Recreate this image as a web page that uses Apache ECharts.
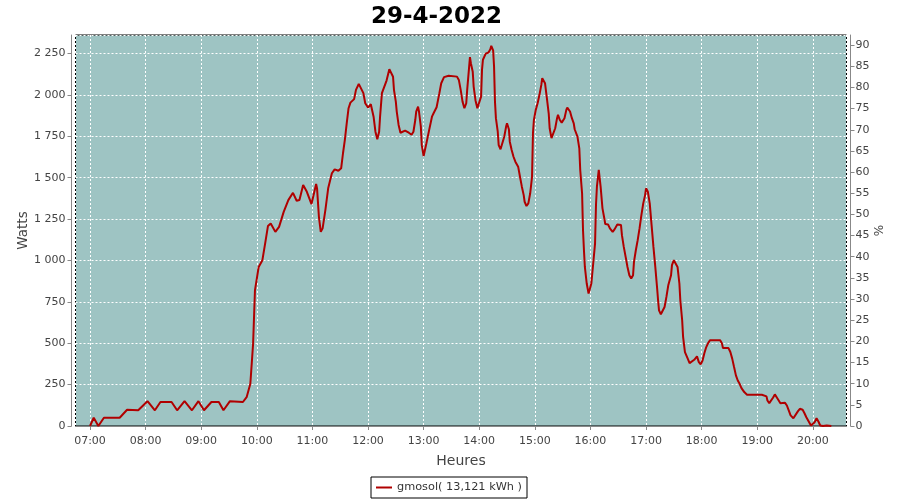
<!DOCTYPE html>
<html>
<head>
<meta charset="utf-8">
<script src="https://cdn.jsdelivr.net/npm/echarts@6/dist/echarts.min.js"></script>
<style>html,body{margin:0;padding:0;background:#fff}#c{width:900px;height:500px}</style>
</head>
<body>
<div id="c"></div>
<script>
const day = '2022-04-29';
const times = ['07:00','07:04','07:09','07:15','07:32','07:40','07:52','08:02','08:10','08:16','08:28','08:34','08:42','08:50','08:57','09:03','09:11','09:19','09:24','09:31','09:45','09:49','09:53','09:56','09:58','10:02','10:06','10:09','10:12','10:15','10:20','10:24','10:29','10:34','10:39','10:43','10:46','10:50','10:54','10:59','11:04','11:05','11:07','11:09','11:11','11:14','11:17','11:21','11:24','11:28','11:31','11:33','11:35','11:37','11:39','11:41','11:45','11:47','11:50','11:52','11:55','11:57','12:00','12:03','12:06','12:08','12:10','12:12','12:13','12:15','12:17','12:20','12:23','12:25','12:27','12:28','12:30','12:31','12:33','12:35','12:37','12:40','12:42','12:44','12:47','12:49','12:51','12:52','12:54','12:55','12:57','12:58','13:00','13:01','13:03','13:06','13:09','13:11','13:14','13:17','13:19','13:22','13:27','13:36','13:38','13:40','13:42','13:44','13:46','13:47','13:49','13:50','13:51','13:53','13:54','13:56','13:58','14:00','14:02','14:03','14:04','14:07','14:10','14:12','14:13','14:15','14:16','14:17','14:18','14:20','14:21','14:23','14:25','14:27','14:29','14:30','14:32','14:33','14:35','14:37','14:39','14:42','14:44','14:46','14:48','14:49','14:51','14:53','14:55','14:57','14:58','14:59','15:01','15:03','15:05','15:07','15:08','15:10','15:11','15:13','15:15','15:16','15:18','15:20','15:22','15:24','15:25','15:27','15:29','15:32','15:34','15:35','15:38','15:40','15:42','15:43','15:46','15:48','15:49','15:51','15:52','15:53','15:54','15:56','15:58','16:00','16:01','16:03','16:05','16:06','16:07','16:09','16:10','16:11','16:13','16:15','16:16','16:19','16:21','16:24','16:26','16:29','16:31','16:33','16:34','16:36','16:38','16:40','16:42','16:44','16:46','16:47','16:49','16:51','16:53','16:55','16:57','16:59','17:00','17:02','17:04','17:06','17:08','17:10','17:12','17:13','17:14','17:16','17:18','17:20','17:22','17:24','17:27','17:28','17:30','17:32','17:34','17:36','17:37','17:39','17:40','17:42','17:45','17:47','17:49','17:52','17:55','17:57','17:59','18:01','18:03','18:05','18:07','18:09','18:20','18:22','18:23','18:29','18:31','18:33','18:35','18:37','18:39','18:41','18:43','18:46','18:49','19:05','19:07','19:10','19:11','19:13','19:15','19:17','19:19','19:22','19:25','19:30','19:32','19:34','19:36','19:39','19:41','19:44','19:46','19:49','19:51','19:53','19:56','19:58','20:00','20:02','20:04','20:06','20:08','20:11','20:15','20:17','20:20'];
const watts = [0,50,0,50,50,98,95,150,95,145,145,95,150,95,150,95,145,145,95,150,145,174,255,498,820,961,1002,1103,1208,1224,1173,1203,1294,1365,1409,1361,1365,1456,1415,1341,1462,1436,1264,1173,1194,1306,1436,1527,1551,1542,1557,1648,1729,1829,1920,1954,1975,2031,2067,2061,2011,1950,1924,1944,1869,1778,1732,1778,1869,2011,2041,2087,2156,2156,2110,2031,1960,1900,1819,1772,1765,1785,1795,1772,1760,1778,1849,1900,1930,1900,1809,1697,1631,1637,1708,1789,1869,1893,1926,2011,2071,2108,2116,2111,2091,2031,1960,1920,1950,2031,2162,2229,2192,2140,2051,1967,1920,1930,1990,2152,2213,2250,2257,2277,2297,2270,2172,1960,1860,1778,1697,1672,1678,1748,1809,1829,1793,1718,1668,1627,1597,1567,1506,1446,1395,1355,1329,1345,1406,1506,1769,1849,1910,1950,2001,2061,2102,2111,2071,1981,1888,1799,1739,1745,1799,1860,1880,1849,1833,1860,1910,1924,1900,1860,1829,1793,1748,1678,1547,1406,1183,1063,961,861,800,796,861,982,1103,1335,1446,1547,1537,1446,1315,1254,1220,1218,1194,1173,1188,1218,1228,1214,1153,1082,1022,961,911,891,911,992,1062,1123,1194,1274,1345,1395,1436,1415,1345,1214,1082,961,831,760,699,675,681,719,780,850,911,972,1002,1006,961,861,760,639,538,447,407,380,377,400,421,386,372,396,441,477,501,518,518,498,471,471,447,407,356,306,275,255,229,205,189,189,191,179,154,138,144,171,191,165,138,140,124,94,64,47,58,90,104,98,77,53,23,3,3,23,47,27,3,0,3,7,0];
const seriesName = 'gmosol( 13,121 kWh )';
const chartTitle = '29-4-2022';
const xMin = day + ' 06:44:20';
const xMax = day + ' 20:36:20';
const wattsMax = 2362.5, wattsStep = 250;
const pctMax = 92.4, pctStep = 5;

const data = times.map((t, i) => [day + ' ' + t, watts[i]]);
const font = 'DejaVu Sans';
const gray = '#444444';
const axisGray = '#888888';

const chart = echarts.init(document.getElementById('c'), null, {renderer: 'canvas'});
chart.setOption({
  animation: false,
  backgroundColor: '#ffffff',
  title: {
    text: chartTitle, left: 366, top: 1,
    textStyle: {fontFamily: font, fontSize: 23, fontWeight: 'bold', color: '#000'}
  },
  legend: {
    data: [seriesName], bottom: 2, left: 371,
    borderColor: '#000', borderWidth: 1, padding: [5, 5, 5, 5],
    icon: 'rect', itemWidth: 16, itemHeight: 2, itemGap: 4,
    textStyle: {fontFamily: font, fontSize: 11.3, color: '#333'}
  },
  grid: {
    left: 75.5, right: 53.5, top: 35, bottom: 74,
    show: true, backgroundColor: '#9ec4c3', borderColor: '#000', borderWidth: 1
  },
  xAxis: {
    type: 'time', min: xMin, max: xMax, offset: 4,
    minInterval: 3600000, maxInterval: 3600000,
    name: 'Heures', nameLocation: 'middle', nameGap: 24,
    nameTextStyle: {fontFamily: font, fontSize: 14, color: gray},
    axisLine: {show: true, lineStyle: {color: axisGray}},
    axisTick: {show: true, length: 4, lineStyle: {color: axisGray}},
    axisLabel: {formatter: '{HH}:{mm}', fontFamily: font, fontSize: 11, color: gray, margin: 6, showMinLabel: false, showMaxLabel: false},
    splitLine: {show: true, lineStyle: {color: '#ffffff', type: [2, 2], width: 1}}
  },
  yAxis: [{
    type: 'value', min: 0, max: wattsMax, interval: wattsStep, offset: 4,
    name: 'Watts', nameLocation: 'middle', nameGap: 41, nameMoveOverlap: false,
    nameTextStyle: {fontFamily: font, fontSize: 13.5, color: gray},
    axisLine: {show: true, lineStyle: {color: axisGray}},
    axisTick: {show: true, length: 4, lineStyle: {color: axisGray}},
    axisLabel: {
      fontFamily: font, fontSize: 11, color: gray, margin: 6, showMaxLabel: false,
      formatter: v => String(v).replace(/\B(?=(\d{3})+(?!\d))/g, ' ')
    },
    splitLine: {show: true, lineStyle: {color: '#ffffff', type: [2, 2], width: 1}}
  }, {
    type: 'value', position: 'right', min: 0, max: pctMax, interval: pctStep, offset: 4,
    name: '%', nameLocation: 'middle', nameGap: 23, nameMoveOverlap: false,
    nameTextStyle: {fontFamily: font, fontSize: 12, color: gray},
    axisLine: {show: true, lineStyle: {color: axisGray}},
    axisTick: {show: true, length: 4, lineStyle: {color: axisGray}},
    axisLabel: {fontFamily: font, fontSize: 11, color: gray, margin: 5, showMaxLabel: false},
    splitLine: {show: false}
  }],
  series: [{
    name: seriesName, type: 'line', yAxisIndex: 0, data: data,
    showSymbol: false, symbol: 'none', smooth: false,
    lineStyle: {color: '#b00000', width: 2},
    itemStyle: {color: '#b00000'}
  }]
});
</script>
</body>
</html>
